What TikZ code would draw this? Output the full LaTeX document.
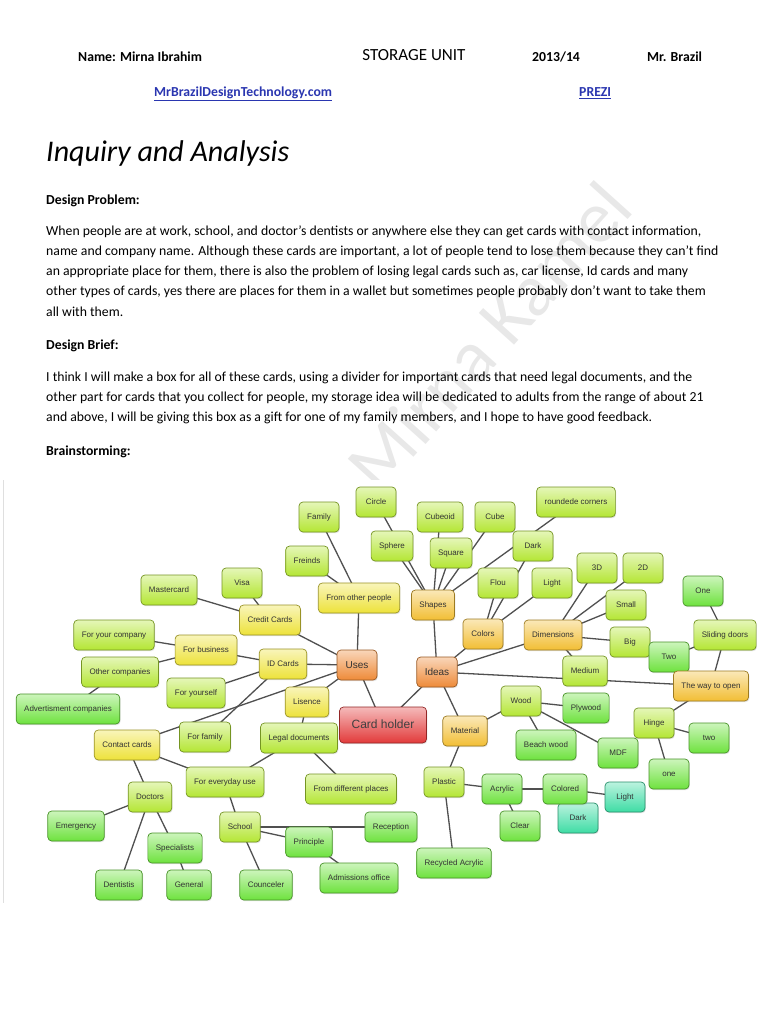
\documentclass[tikz,border=0pt]{standalone}
\usepackage{fontspec}
\setmainfont{Carlito}
\newfontfamily\mapfont{Liberation Sans}
\usetikzlibrary{shadows,backgrounds}

\definecolor{cRosso}{HTML}{E23A3A}
\definecolor{cArancio}{HTML}{EE8A38}
\definecolor{cOro}{HTML}{F2BE34}
\definecolor{cGiallo}{HTML}{EDE23A}
\definecolor{cLime}{HTML}{B4E634}
\definecolor{cVerde}{HTML}{6EE23E}
\definecolor{cAcqua}{HTML}{3EDCA4}
\definecolor{cRamo}{HTML}{505050}
\definecolor{cLink}{HTML}{2A36B0}
\definecolor{cFiligrana}{HTML}{E8E8E8}

\begin{document}
\begin{tikzpicture}[
    x=1pt, y=-1pt,
    testo/.style={anchor=west, inner sep=0pt, text height=10pt, text depth=3pt, font=\fontsize{13.75pt}{16pt}\selectfont},
    grassetto/.style={testo, font=\fontsize{13.75pt}{16pt}\selectfont\bfseries},
    link/.style={grassetto, text=cLink},
    bolla/.style={rounded corners=4pt, draw=#1!65!black, line width=0.7pt, top color=#1!35!white, bottom color=#1,
        text=black!80, font=\mapfont\fontsize{8pt}{9pt}\selectfont, text height=6pt, text depth=1.5pt,
        minimum height=30pt, minimum width=40pt, inner xsep=8pt,
        drop shadow={opacity=0.22, shadow xshift=0.8pt, shadow yshift=-1.2pt}},
    radice/.style={bolla=#1, font=\mapfont\fontsize{10pt}{11pt}\selectfont, text height=7.5pt},
    ramo/.style={draw=cRamo, line width=1.3pt}
]
    \useasboundingbox (0,0) rectangle (768,1024);

    % 0. Filigrana e fondo della mappa
    \begin{pgfonlayer}{background}
        \node[rotate=48, text=cFiligrana, font=\fontsize{74pt}{74pt}\selectfont] (filigrana) at (489,336) {Mirna Kamel};
        \fill[white] (3,480) rectangle (768,905);
        \draw[gray!25, line width=0.6pt] (3,480) -- (3,903);
    \end{pgfonlayer}

    % 1. Intestazione
    \node[grassetto] (nome) at (78,58) {Name: Mirna Ibrahim};
    \node[testo, anchor=center, font=\fontsize{17pt}{19pt}\selectfont] (unita) at (414,57) {STORAGE UNIT};
    \node[grassetto] (anno) at (532,58) {2013/14};
    \node[grassetto] (prof) at (647,58) {Mr. Brazil};
    \node[link] (sito) at (154,93) {\underline{MrBrazilDesignTechnology.com}};
    \node[link] (prezi) at (579,93) {\underline{PREZI}};

    \node[testo, text height=21pt, text depth=7pt, font=\fontsize{30pt}{32pt}\selectfont\itshape] (titolo) at (46,155) {Inquiry and Analysis};

    % 2. Problema
    \node[grassetto] (problema) at (46,201) {Design Problem:};
    \node[testo] (p1) at (46,232) {When people are at work, school, and doctor’s dentists or anywhere else they can get cards with contact information,};
    \node[testo] (p2) at (46,252) {name and company name. Although these cards are important, a lot of people tend to lose them because they can’t find};
    \node[testo] (p3) at (46,272) {an appropriate place for them, there is also the problem of losing legal cards such as, car license, Id cards and many};
    \node[testo] (p4) at (46,292) {other types of cards, yes there are places for them in a wallet but sometimes people probably don’t want to take them};
    \node[testo] (p5) at (46,313) {all with them.};

    % 3. Brief
    \node[grassetto] (brief) at (46,346) {Design Brief:};
    \node[testo] (b1) at (46,378) {I think I will make a box for all of these cards, using a divider for important cards that need legal documents, and the};
    \node[testo] (b2) at (46,398) {other part for cards that you collect for people, my storage idea will be dedicated to adults from the range of about 21};
    \node[testo] (b3) at (46,418) {and above, I will be giving this box as a gift for one of my family members, and I hope to have good feedback.};

    \node[grassetto] (brain) at (46,452) {Brainstorming:};

    % 4. Mappa: centro
    \node[bolla=cRosso, font=\mapfont\fontsize{12pt}{13pt}\selectfont, text height=9pt, text depth=2pt,
          minimum width=87pt, minimum height=36pt, text=black!75] (holder) at (383,725) {Card holder};
    \node[radice=cArancio] (uses) at (357,665) {Uses};
    \node[radice=cArancio] (ideas) at (437,672) {Ideas};

    % 5. Ramo Uses
    \node[bolla=cLime] (family) at (319,517) {Family};
    \node[bolla=cLime] (freinds) at (307,561) {Freinds};
    \node[bolla=cGiallo] (fromother) at (359,598) {From other people};
    \node[bolla=cLime] (mastercard) at (169,590) {Mastercard};
    \node[bolla=cLime] (visa) at (242,583) {Visa};
    \node[bolla=cGiallo] (credit) at (270,620) {Credit Cards};
    \node[bolla=cLime] (company) at (114,635) {For your company};
    \node[bolla=cGiallo] (business) at (206,650) {For business};
    \node[bolla=cLime] (othercomp) at (120,672) {Other companies};
    \node[bolla=cLime] (yourself) at (196,693) {For yourself};
    \node[bolla=cVerde] (advert) at (68,709) {Advertisment companies};
    \node[bolla=cGiallo] (idcards) at (283,664) {ID Cards};
    \node[bolla=cGiallo] (lisence) at (307,702) {Lisence};
    \node[bolla=cLime] (forfamily) at (205,737) {For family};
    \node[bolla=cLime] (legal) at (299,738) {Legal documents};
    \node[bolla=cGiallo] (contact) at (127,745) {Contact cards};
    \node[bolla=cLime] (everyday) at (225,782) {For everyday use};
    \node[bolla=cLime] (different) at (351,789) {From different places};
    \node[bolla=cLime] (doctors) at (150,797) {Doctors};
    \node[bolla=cVerde] (emergency) at (76,826) {Emergency};
    \node[bolla=cVerde] (specialists) at (175,848) {Specialists};
    \node[bolla=cVerde] (dentistis) at (119,885) {Dentistis};
    \node[bolla=cVerde] (general) at (189,885) {General};
    \node[bolla=cLime] (school) at (240,827) {School};
    \node[bolla=cVerde] (principle) at (309,842) {Principle};
    \node[bolla=cVerde] (reception) at (391,827) {Reception};
    \node[bolla=cVerde] (admissions) at (359,878) {Admissions office};
    \node[bolla=cVerde] (counceler) at (266,885) {Counceler};

    % 6. Ramo Ideas
    \node[bolla=cLime] (circle) at (376,502) {Circle};
    \node[bolla=cLime] (cubeoid) at (440,517) {Cubeoid};
    \node[bolla=cLime] (cube) at (495,517) {Cube};
    \node[bolla=cLime] (sphere) at (392,546) {Sphere};
    \node[bolla=cLime] (square) at (451,553) {Square};
    \node[bolla=cLime] (corners) at (576,502) {roundede corners};
    \node[bolla=cLime] (dark) at (533,546) {Dark};
    \node[bolla=cLime] (flou) at (498,583) {Flou};
    \node[bolla=cLime] (light) at (552,583) {Light};
    \node[bolla=cOro] (shapes) at (433,605) {Shapes};
    \node[bolla=cOro] (colors) at (483,634) {Colors};
    \node[bolla=cLime] (d3) at (597,568) {3D};
    \node[bolla=cLime] (d2) at (643,568) {2D};
    \node[bolla=cLime] (small) at (626,605) {Small};
    \node[bolla=cOro] (dimensions) at (553,635) {Dimensions};
    \node[bolla=cLime] (big) at (630,642) {Big};
    \node[bolla=cLime] (medium) at (585,671) {Medium};
    \node[bolla=cVerde] (one) at (703,591) {One};
    \node[bolla=cLime] (sliding) at (725,635) {Sliding doors};
    \node[bolla=cVerde] (two) at (669,657) {Two};
    \node[bolla=cOro] (wayopen) at (711,686) {The way to open};
    \node[bolla=cLime] (hinge) at (654,723) {Hinge};
    \node[bolla=cVerde] (hingetwo) at (709,738) {two};
    \node[bolla=cVerde] (hingeone) at (669,774) {one};
    \node[bolla=cOro] (material) at (465,731) {Material};
    \node[bolla=cLime] (wood) at (521,701) {Wood};
    \node[bolla=cVerde] (plywood) at (586,708) {Plywood};
    \node[bolla=cVerde] (beach) at (546,745) {Beach wood};
    \node[bolla=cVerde] (mdf) at (618,753) {MDF};
    \node[bolla=cLime] (plastic) at (444,782) {Plastic};
    \node[bolla=cVerde] (acrylic) at (502,789) {Acrylic};
    \node[bolla=cAcqua] (darkc) at (578,818) {Dark};
    \node[bolla=cVerde] (colored) at (565,789) {Colored};
    \node[bolla=cAcqua] (lightc) at (625,797) {Light};
    \node[bolla=cVerde] (clear) at (520,826) {Clear};
    \node[bolla=cVerde] (recycled) at (454,863) {Recycled Acrylic};

    % 7. Rami (dietro le bolle)
    \begin{pgfonlayer}{background}
    \draw[ramo] (holder.center) -- (uses.center);
    \draw[ramo] (holder.center) -- (ideas.center);
    % Uses
    \draw[ramo] (uses.center) -- (fromother.center);
    \draw[ramo] (uses.center) -- (credit.center);
    \draw[ramo] (uses.center) -- (idcards.center);
    \draw[ramo] (uses.center) -- (lisence.center);
    \draw[ramo] (uses.center) -- (contact.center);
    \draw[ramo] (fromother.center) -- (family.center);
    \draw[ramo] (fromother.center) -- (freinds.center);
    \draw[ramo] (credit.center) -- (mastercard.center);
    \draw[ramo] (credit.center) -- (visa.center);
    \draw[ramo] (idcards.center) -- (business.center);
    \draw[ramo] (idcards.center) -- (yourself.center);
    \draw[ramo] (idcards.center) -- (forfamily.center);
    \draw[ramo] (business.center) -- (company.center);
    \draw[ramo] (business.center) -- (othercomp.center);
    \draw[ramo] (othercomp.center) -- (advert.center);
    \draw[ramo] (lisence.center) -- (legal.center);
    \draw[ramo] (legal.center) -- (everyday.center);
    \draw[ramo] (legal.center) -- (different.center);
    \draw[ramo] (contact.center) -- (everyday.center);
    \draw[ramo] (contact.center) -- (doctors.center);
    \draw[ramo] (everyday.center) -- (school.center);
    \draw[ramo] (doctors.center) -- (emergency.center);
    \draw[ramo] (doctors.center) -- (specialists.center);
    \draw[ramo] (doctors.center) -- (dentistis.center);
    \draw[ramo] (specialists.center) -- (general.center);
    \draw[ramo] (school.center) -- (principle.center);
    \draw[ramo] (school.center) -- (reception.center);
    \draw[ramo] (school.center) -- (counceler.center);
    \draw[ramo] (principle.center) -- (admissions.center);
    % Ideas
    \draw[ramo] (ideas.center) -- (shapes.center);
    \draw[ramo] (ideas.center) -- (colors.center);
    \draw[ramo] (ideas.center) -- (dimensions.center);
    \draw[ramo] (ideas.center) -- (wayopen.center);
    \draw[ramo] (ideas.center) -- (material.center);
    \draw[ramo] (shapes.center) -- (circle.center);
    \draw[ramo] (shapes.center) -- (sphere.center);
    \draw[ramo] (shapes.center) -- (cubeoid.center);
    \draw[ramo] (shapes.center) -- (square.center);
    \draw[ramo] (shapes.center) -- (cube.center);
    \draw[ramo] (shapes.center) -- (corners.center);
    \draw[ramo] (colors.center) -- (flou.center);
    \draw[ramo] (colors.center) -- (light.center);
    \draw[ramo] (colors.center) -- (dark.center);
    \draw[ramo] (dimensions.center) -- (d3.center);
    \draw[ramo] (dimensions.center) -- (d2.center);
    \draw[ramo] (dimensions.center) -- (small.center);
    \draw[ramo] (dimensions.center) -- (big.center);
    \draw[ramo] (dimensions.center) -- (medium.center);
    \draw[ramo] (wayopen.center) -- (sliding.center);
    \draw[ramo] (sliding.center) -- (one.center);
    \draw[ramo] (sliding.center) -- (two.center);
    \draw[ramo] (wayopen.center) -- (hinge.center);
    \draw[ramo] (hinge.center) -- (hingetwo.center);
    \draw[ramo] (hinge.center) -- (hingeone.center);
    \draw[ramo] (material.center) -- (wood.center);
    \draw[ramo] (material.center) -- (plastic.center);
    \draw[ramo] (wood.center) -- (plywood.center);
    \draw[ramo] (wood.center) -- (beach.center);
    \draw[ramo] (wood.center) -- (mdf.center);
    \draw[ramo] (plastic.center) -- (acrylic.center);
    \draw[ramo] (plastic.center) -- (recycled.center);
    \draw[ramo] (acrylic.center) -- (colored.center);
    \draw[ramo] (acrylic.center) -- (clear.center);
    \draw[ramo] (colored.center) -- (lightc.center);
    \draw[ramo] (colored.center) -- (darkc.center);
    \end{pgfonlayer}

\end{tikzpicture}
\end{document}
